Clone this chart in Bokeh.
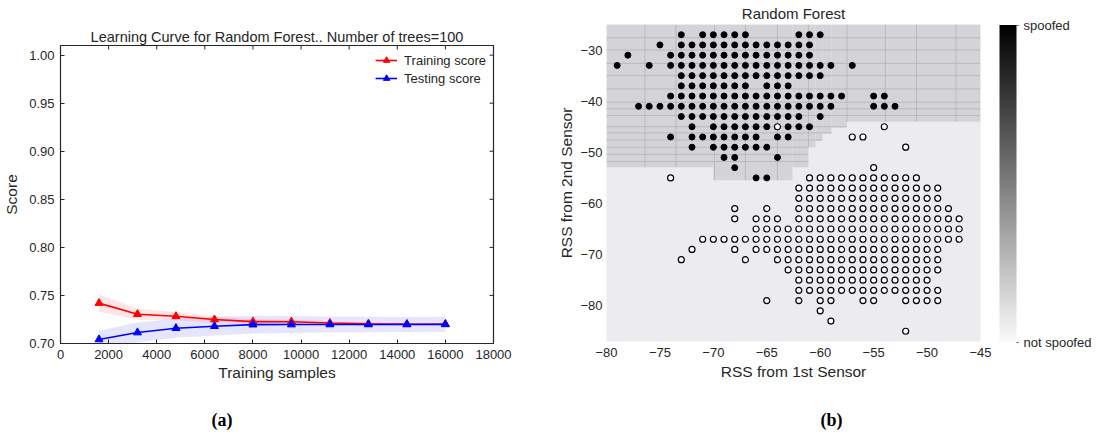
import math
from bokeh.plotting import figure
from bokeh.layouts import row
from bokeh.models import (Range1d, FixedTicker, Legend, LegendItem,
                          ColorBar, LinearColorMapper, Title)
from bokeh.embed import file_html
from bokeh.resources import INLINE

FONT = "Liberation Sans"
TXT = "#262626"

# ---------------- (a) learning curve data ----------------
train_sizes = [1600, 3200, 4800, 6400, 8000, 9600, 11200, 12800, 14400, 16000]
train_mean = [0.7420, 0.7305, 0.7283, 0.7249, 0.7228, 0.7227, 0.7213, 0.7205, 0.7202, 0.7201]
train_std = [0.0090, 0.0058, 0.0042, 0.0034, 0.0025, 0.0022, 0.0018, 0.0015, 0.0012, 0.0012]
test_mean = [0.7042, 0.7114, 0.7159, 0.7180, 0.7196, 0.7197, 0.7198, 0.7198, 0.7198, 0.7199]
test_std = [0.0090, 0.0104, 0.0100, 0.0098, 0.0092, 0.0088, 0.0082, 0.0080, 0.0078, 0.0078]
x_ticks_a = [0, 2000, 4000, 6000, 8000, 10000, 12000, 14000, 16000, 18000]
y_ticks_a = [0.70, 0.75, 0.80, 0.85, 0.90, 0.95, 1.00]
x_range_a = (0, 18000)
y_range_a = (0.70, 1.01)

# ---------------- (b) decision map data ----------------
# rows of RSS samples: y (2nd sensor) -> list of x (1st sensor)
spoofed_rows = {
    -27: [-73, -71, -70, -69, -68, -67, -62, -61, -60],
    -29: [-75] + list(range(-73, -60)),
    -31: [-78, -74] + list(range(-73, -60)),
    -33: [-79, -76, -74] + list(range(-73, -58)) + [-57],
    -35: list(range(-73, -59)),
    -37: list(range(-73, -66)) + [-65, -64, -63],
    -39: list(range(-74, -57)) + [-55, -54],
    -41: list(range(-77, -58)) + [-55, -54, -53],
    -43: list(range(-73, -61)) + [-60],
    -45: [-72] + list(range(-70, -64)) + [-63, -62, -61],
    -47: [-74] + list(range(-72, -65)) + [-64, -63],
    -49: [-72] + list(range(-70, -64)),
    -51: [-69, -68, -64],
    -53: [-68],
    -55: [-66, -65],
}
not_spoofed_rows = {
    -45: [-64, -54],
    -47: [-57, -56],
    -49: [-52],
    -53: [-55],
    -55: [-74] + list(range(-61, -50)),
    -57: list(range(-62, -48)),
    -59: list(range(-62, -48)),
    -61: [-68, -65] + list(range(-62, -47)),
    -63: [-68, -66, -65, -64] + list(range(-62, -46)),
    -65: list(range(-66, -46)),
    -67: list(range(-71, -46)),
    -69: [-72, -68] + list(range(-66, -48)),
    -71: [-73, -67] + list(range(-64, -48)),
    -73: list(range(-63, -48)),
    -75: list(range(-62, -49)),
    -77: list(range(-62, -48)),
    -79: [-65, -62, -60, -59, -56, -55, -52, -51, -50, -49],
    -81: [-60],
    -83: [-59],
    -85: [-52],
}
# predicted "spoofed" region: column strips with their lower edge
region_left = [-80, -70, -62.6, -61.1, -60.45, -59.8, -58.95, -57.5]
region_right = [-70, -62.6, -61.1, -60.45, -59.8, -58.95, -57.5, -45]
region_bottom = [-52.9, -55.45, -52.9, -49.0, -47.8, -46.3, -45.15, -44.0]
region_top = -25
# faint cell seams visible inside the region
seam_x = [-76.4, -73.5, -69.9, -67.0, -64.0, -61.1, -57.5, -53.9, -51.0, -47.3]
seam_y = [-27.6, -30.0, -32.6, -35.0, -37.6, -40.2, -41.5, -42.8, -45.0, -46.2, -47.6, -49.0, -50.4, -51.8]
x_ticks_b = [-80, -75, -70, -65, -60, -55, -50, -45]
y_ticks_b = [-80, -70, -60, -50, -40, -30]
cbar_labels = {0: "not spoofed", 1: "spoofed"}


def style_text_axis(ax, size="13px", label_size="15.5px"):
    ax.major_label_text_font = FONT
    ax.major_label_text_font_size = size
    ax.major_label_text_color = TXT
    ax.axis_label_text_font = FONT
    ax.axis_label_text_font_size = label_size
    ax.axis_label_text_color = TXT
    ax.axis_label_text_font_style = "normal"
    ax.minor_tick_line_color = None


# ================= figure (a) =================
p1 = figure(frame_width=433, frame_height=298,
            x_range=Range1d(*x_range_a), y_range=Range1d(*y_range_a),
            output_backend="svg", toolbar_location=None,
            min_border_left=53, min_border_right=62,
            min_border_top=45, min_border_bottom=92)
p1.frame_align = False
p1.title.text = "Learning Curve for Random Forest.. Number of trees=100"
p1.title.align = "center"
p1.title.text_font = FONT
p1.title.text_font_size = "14.5px"
p1.title.text_font_style = "normal"
p1.title.text_color = TXT
p1.title.standoff = 2
p1.grid.visible = False
p1.outline_line_color = "#262626"
p1.outline_line_width = 1.2
p1.background_fill_color = "white"

p1.xaxis.ticker = FixedTicker(ticks=x_ticks_a)
p1.yaxis.ticker = FixedTicker(ticks=y_ticks_a)
p1.yaxis.major_label_overrides = {t: f"{t:.2f}" for t in y_ticks_a}
p1.xaxis.axis_label = "Training samples"
p1.yaxis.axis_label = "Score"
for ax in (p1.xaxis[0], p1.yaxis[0]):
    style_text_axis(ax)
    ax.major_tick_in = 4
    ax.major_tick_out = 0
    ax.major_tick_line_color = "#262626"
    ax.axis_line_color = "#262626"
    ax.major_label_standoff = 6
p1.xaxis.axis_label_standoff = 2
p1.yaxis.axis_label_standoff = 6

# inward tick marks on the top and right edges (half of each dash is clipped by the frame)
p1.scatter(x=x_ticks_a, y=[y_range_a[1]] * len(x_ticks_a), marker="dash", angle=math.pi / 2,
           size=8, line_color="#262626", line_width=1)
p1.scatter(x=[x_range_a[1]] * len(y_ticks_a), y=y_ticks_a, marker="dash",
           size=8, line_color="#262626", line_width=1)

tr_lo = [m - s for m, s in zip(train_mean, train_std)]
tr_hi = [m + s for m, s in zip(train_mean, train_std)]
te_lo = [m - s for m, s in zip(test_mean, test_std)]
te_hi = [m + s for m, s in zip(test_mean, test_std)]
p1.varea(x=train_sizes, y1=tr_lo, y2=tr_hi, fill_color="red", fill_alpha=0.1)
p1.varea(x=train_sizes, y1=te_lo, y2=te_hi, fill_color="blue", fill_alpha=0.1)
l1 = p1.line(train_sizes, train_mean, line_color="red", line_width=1.6)
s1 = p1.scatter(train_sizes, train_mean, marker="triangle", size=8, color="red")
l2 = p1.line(train_sizes, test_mean, line_color="blue", line_width=1.6)
s2 = p1.scatter(train_sizes, test_mean, marker="triangle", size=8, color="blue")

legend = Legend(items=[LegendItem(label="Training score", renderers=[l1, s1]),
                       LegendItem(label="Testing score", renderers=[l2, s2])],
                location="top_right", margin=7, padding=6, spacing=2,
                glyph_width=22, glyph_height=16, label_height=16, label_standoff=7,
                label_text_font=FONT, label_text_font_size="13px", label_text_color=TXT,
                border_line_color=None, background_fill_alpha=0)
p1.add_layout(legend)
p1.add_layout(Title(text="(a)", align="left", offset=151, text_font="Liberation Serif",
                    text_font_style="bold", text_font_size="18px", text_color="black",
                    standoff=49), "below")

# ================= figure (b) =================
p2 = figure(frame_width=374, frame_height=317,
            x_range=Range1d(-80, -45), y_range=Range1d(-87, -25),
            output_backend="svg", toolbar_location=None,
            min_border_left=48, min_border_right=0,
            min_border_top=24, min_border_bottom=92,
            background_fill_color="#EBEBF0")
p2.frame_align = False
p2.title.text = "Random Forest"
p2.title.align = "center"
p2.title.text_font = FONT
p2.title.text_font_size = "15px"
p2.title.text_font_style = "normal"
p2.title.text_color = TXT
p2.title.standoff = 5
p2.grid.visible = False
p2.outline_line_color = None

p2.xaxis.ticker = FixedTicker(ticks=x_ticks_b)
p2.yaxis.ticker = FixedTicker(ticks=y_ticks_b)
p2.xaxis.major_label_overrides = {t: f"\u2212{abs(t)}" for t in x_ticks_b}
p2.yaxis.major_label_overrides = {t: f"\u2212{abs(t)}" for t in y_ticks_b}
p2.xaxis.axis_label = "RSS from 1st Sensor"
p2.yaxis.axis_label = "RSS from 2nd Sensor"
for ax in (p2.xaxis[0], p2.yaxis[0]):
    style_text_axis(ax)
    ax.major_tick_line_color = None
    ax.major_tick_in = 0
    ax.major_tick_out = 0
    ax.axis_line_color = None
p2.xaxis.major_label_standoff = 6
p2.yaxis.major_label_standoff = 4
p2.xaxis.axis_label_standoff = 3
p2.yaxis.axis_label_standoff = 2

p2.quad(left=region_left, right=region_right, bottom=region_bottom,
        top=[region_top] * len(region_left), fill_color="#D3D3D8", line_color=None)


def region_floor(x):
    for l, r, b in zip(region_left, region_right, region_bottom):
        if l <= x < r:
            return b
    return region_bottom[-1]


vx0, vy0, vx1, vy1 = [], [], [], []
for sx in seam_x:
    vx0.append(sx); vx1.append(sx); vy0.append(region_top); vy1.append(region_floor(sx))
for sy in seam_y:
    xs = [(l, r) for l, r, b in zip(region_left, region_right, region_bottom) if b < sy]
    if xs:
        vx0.append(min(a for a, _ in xs)); vx1.append(max(b for _, b in xs))
        vy0.append(sy); vy1.append(sy)
p2.segment(x0=vx0, y0=vy0, x1=vx1, y1=vy1, line_color="#B2B2B8", line_width=0.8)

sx_, sy_ = [], []
for yv, xl in spoofed_rows.items():
    sx_ += xl; sy_ += [yv] * len(xl)
nx_, ny_ = [], []
for yv, xl in not_spoofed_rows.items():
    nx_ += xl; ny_ += [yv] * len(xl)
p2.scatter(sx_, sy_, marker="circle", size=6, fill_color="black", line_color="black", line_width=1)
p2.scatter(nx_, ny_, marker="circle", size=6, fill_color="white", line_color="black", line_width=1.2)

palette = ["#%02x%02x%02x" % (v, v, v) for v in range(250, -1, -1)]
mapper = LinearColorMapper(palette=palette, low=0, high=1)
cbar = ColorBar(color_mapper=mapper, ticker=FixedTicker(ticks=[0, 1]),
                major_label_overrides=cbar_labels, width=17, height=317,
                location="center_left", margin=21, padding=19, label_standoff=5,
                major_label_text_font=FONT, major_label_text_font_size="13px",
                major_label_text_color=TXT, major_tick_in=0, major_tick_out=2,
                major_tick_line_color="#555555", minor_tick_line_color=None,
                bar_line_color=None, border_line_color=None, background_fill_alpha=0)
p2.add_layout(cbar, "right")
p2.add_layout(Title(text="(b)", align="left", offset=214, text_font="Liberation Serif",
                    text_font_style="bold", text_font_size="18px", text_color="black",
                    standoff=51), "below")

layout = row(p1, p2)
open("out.html", "w").write(file_html(layout, INLINE))
